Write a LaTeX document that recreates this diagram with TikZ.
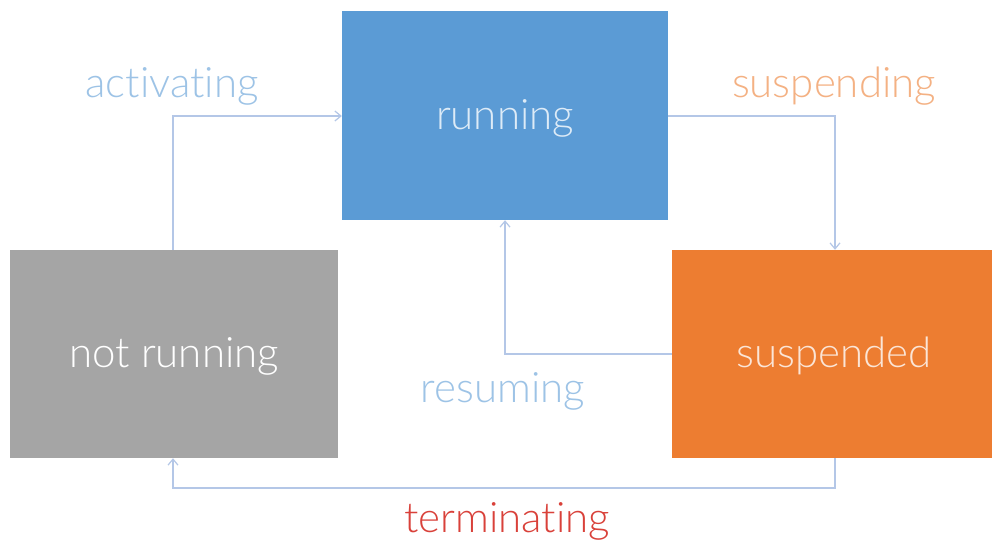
\documentclass[tikz,border=0pt]{standalone}
\usepackage{fontspec}
\setmainfont[Ligatures={CommonOff,ContextualOff}]{Lato Light}
\usetikzlibrary{arrows.meta}
\definecolor{runblue}{HTML}{5B9BD5}
\definecolor{nrgray}{HTML}{A5A5A5}
\definecolor{susorange}{HTML}{ED7D31}
\definecolor{lineblue}{HTML}{B4C7E7}
\definecolor{lblblue}{HTML}{9DC3E6}
\definecolor{lblorange}{HTML}{F4B183}
\definecolor{lblred}{HTML}{D9413A}
\definecolor{runtext}{HTML}{DDEBF7}
\definecolor{sustext}{HTML}{FBE5D6}
\tikzset{
  statebox/.style={draw=none, inner sep=0pt, font=\fontsize{42}{46}\selectfont},
  conn/.style={draw=lineblue, line width=1.2pt, -{Straight Barb[length=6pt,width=10pt]}},
  lbl/.style={font=\fontsize{42}{46}\selectfont, inner sep=0pt}
}
\begin{document}
\begin{tikzpicture}[x=1pt,y=-1pt]
\useasboundingbox (0,0) rectangle (992,545);
\fill[white] (0,0) rectangle (992,545);
\node[statebox, fill=runblue, minimum width=326pt, minimum height=209pt, text=runtext] (run) at (505,115.5) {};
\node[lbl, text=runtext] (runtxt) at (505,118) {running};
\node[statebox, fill=nrgray, minimum width=328pt, minimum height=208pt, text=white] (nr) at (174,354) {};
\node[lbl, text=white] (nrtxt) at (174,356) {not running};
\node[statebox, fill=susorange, minimum width=322pt, minimum height=208pt, text=sustext] (sus) at (833,354) {};
\node[lbl, text=sustext] (sustxt) at (834,356) {suspended};
\coordinate (a1) at (173,116);
\coordinate (s1) at (835,116);
\coordinate (r1) at (505,354);
\coordinate (t1) at (835,488);
\coordinate (t2) at (173,488);
\draw[conn] (nr.north -| a1) -- (a1) -- (a1 -| run.west);
\draw[conn] (run.east |- s1) -- (s1) -- (s1 |- sus.north);
\draw[conn] (sus.west |- r1) -- (r1) -- (r1 |- run.south);
\draw[conn] (t1 |- sus.south) -- (t1) -- (t2) -- (t2 |- nr.south);
\node[lbl, text=lblblue] (act) at (172,86) {activating};
\node[lbl, text=lblorange] (susp) at (834,86) {suspending};
\node[lbl, text=lblblue] (res) at (503,391) {resuming};
\node[lbl, text=lblred] (term) at (507,521) {terminating};
\end{tikzpicture}
\end{document}
